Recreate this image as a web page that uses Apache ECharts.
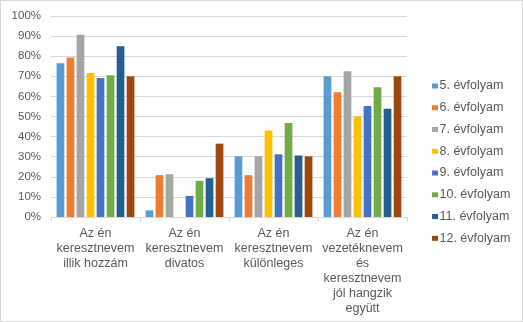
<!DOCTYPE html>
<html><head><meta charset="utf-8">
<script src="https://cdn.jsdelivr.net/npm/echarts@6/dist/echarts.min.js"></script>
<style>html,body{margin:0;padding:0;background:#fff}#c{width:523px;height:322px;box-sizing:border-box;border:1px solid #d9d9d9}</style>
</head><body><div id="c"></div>
<script>
const categories = ["Az én\nkeresztnevem\nillik hozzám", "Az én\nkeresztnevem\ndivatos", "Az én\nkeresztnevem\nkülönleges", "Az én\nvezetéknevem\nés\nkeresztnevem\njól hangzik\negyütt"];
const seriesNames = ["5. évfolyam", "6. évfolyam", "7. évfolyam", "8. évfolyam", "9. évfolyam", "10. évfolyam", "11. évfolyam", "12. évfolyam"];
const g5 = [76.5, 3.3, 30.2, 70];
const g6 = [79.3, 20.8, 20.8, 62.1];
const g7 = [90.7, 21.3, 30.2, 72.5];
const g8 = [71.6, 0, 43, 50];
const g9 = [69.2, 10.5, 31.2, 55.2];
const g10 = [70.5, 18, 46.8, 64.6];
const g11 = [84.9, 19.3, 30.6, 53.8];
const g12 = [70, 36.5, 30.2, 70];
const yTicks = [0, 10, 20, 30, 40, 50, 60, 70, 80, 90, 100];
const colors = ["#5B9BD5", "#ED7D31", "#A5A5A5", "#FFC000", "#4472C4", "#70AD47", "#255E91", "#9E480E"];
const allSeries = [g5, g6, g7, g8, g9, g10, g11, g12];

const chart = echarts.init(document.getElementById('c'), null, {renderer: 'canvas'});
chart.setOption({
  animation: false,
  color: colors,
  textStyle: {fontFamily: 'Liberation Sans, Arial, sans-serif'},
  grid: {left: 50, right: 115, top: 15, bottom: 104, containLabel: false},
  legend: {
    orient: 'vertical', left: 426, top: 73,
    itemWidth: 6, itemHeight: 5, itemGap: 7.76,
    icon: 'rect',
    textStyle: {fontSize: 12.5, color: '#595959', lineHeight: 14, padding: [0, 0, 0, -3.5]},
    data: seriesNames
  },
  xAxis: {
    type: 'category', data: categories,
    axisLine: {lineStyle: {color: '#d9d9d9'}},
    axisTick: {show: true, length: 5, lineStyle: {color: '#d9d9d9'}},
    axisLabel: {interval: 0, fontSize: 12.5, color: '#595959', lineHeight: 15, margin: 9}
  },
  yAxis: {
    type: 'value', min: yTicks[0], max: yTicks[yTicks.length - 1], interval: 10,
    axisLine: {show: false}, axisTick: {show: false},
    splitLine: {lineStyle: {color: '#d9d9d9'}},
    axisLabel: {fontSize: 11.5, color: '#595959', margin: 10, formatter: v => v + '%'}
  },
  series: allSeries.map((d, i) => ({
    name: seriesNames[i], type: 'bar', data: d,
    barWidth: 7.7, barGap: '30%'
  }))
});
</script></body></html>
